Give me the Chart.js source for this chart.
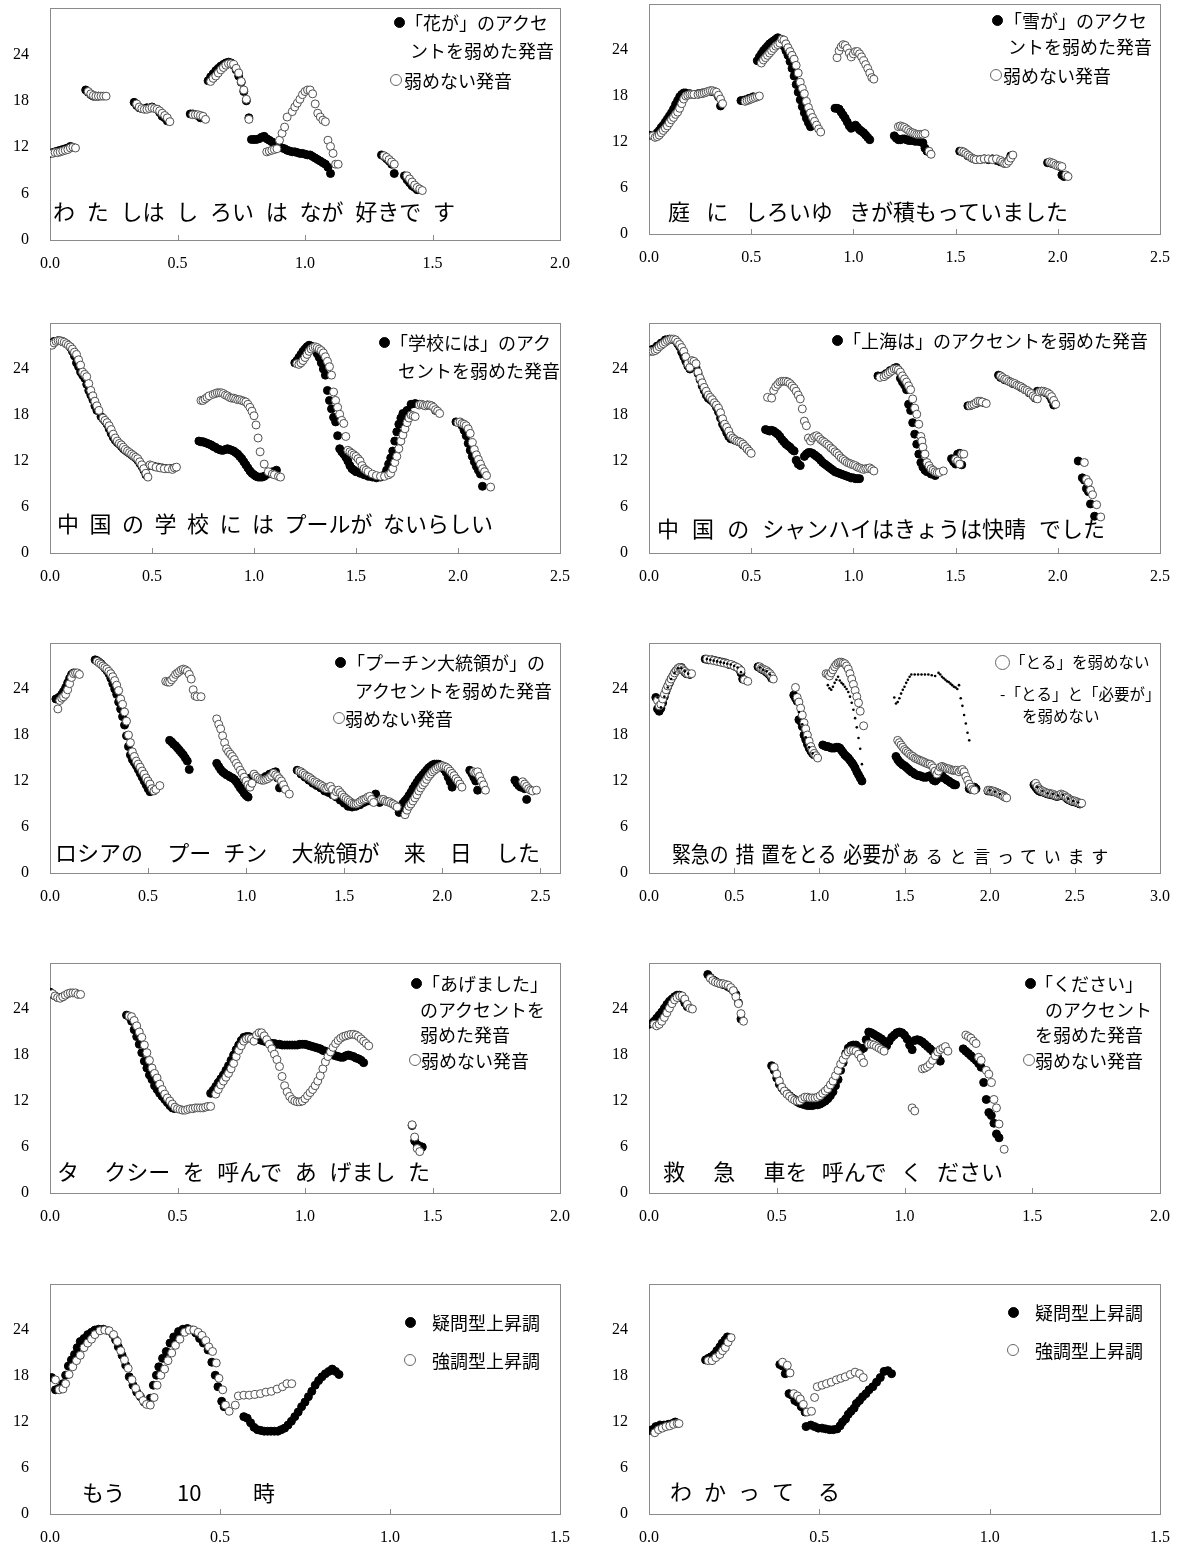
<!DOCTYPE html>
<html>
<head>
<meta charset="utf-8">
<script src="https://cdn.jsdelivr.net/npm/chart.js@4.4.1/dist/chart.umd.min.js"></script>
<style>
body{margin:0;background:#fff;}
#page{position:relative;width:1179px;height:1546px;overflow:hidden;background:#fff;font-family:"Noto Sans CJK JP",sans-serif;color:#000;}
.txt{position:absolute;white-space:pre;line-height:1;transform-origin:0 50%;}
.dot{position:absolute;border-radius:50%;box-sizing:border-box;}
</style>
</head>
<body>
<div id="page"></div>
<script>
// ---- data: [time (s), F0 (semitone)] ----
var p1Weak = [[0.00,11.2],[0.01,11.3],[0.02,11.4],[0.03,11.5],[0.04,11.6],[0.05,11.7],[0.06,11.8],[0.07,11.9],[0.08,12.1],
 [0.14,19.4],[0.15,19.1],[0.16,18.8],[0.17,18.6],[0.18,18.6],[0.19,18.6],
 [0.33,17.8],[0.34,17.4],[0.35,17.1],[0.36,17.0],[0.38,17.1],[0.40,17.2],[0.42,16.9],[0.43,16.5],[0.44,16.0],[0.45,15.8],[0.46,15.4],
 [0.55,16.3],[0.56,16.3],[0.57,16.2],[0.58,16.1],[0.59,15.8],
 [0.62,20.6],[0.63,21.1],[0.64,21.5],[0.65,21.9],[0.66,22.2],[0.67,22.5],[0.68,22.7],[0.69,22.9],[0.70,23.0],[0.71,22.9],[0.72,22.6],[0.73,22.0],[0.74,21.2],[0.75,20.4],[0.76,19.2],[0.77,18.0],[0.78,15.8],
 [0.79,13.0],[0.80,13.0],[0.81,13.0],[0.82,13.1],[0.83,13.3],[0.84,13.4],[0.85,13.1],[0.86,12.9],[0.87,12.7],[0.88,12.5],[0.89,12.3],[0.90,12.1],[0.91,11.9],[0.92,11.8],[0.93,11.6],[0.94,11.5],[0.95,11.4],[0.96,11.4],[0.97,11.3],[0.98,11.2],[0.99,11.2],[1.00,11.1],[1.01,11.0],[1.02,11.0],[1.03,10.8],[1.04,10.6],[1.05,10.4],[1.06,10.2],[1.07,10.0],[1.08,9.8],[1.09,9.4],[1.10,8.6],
 [1.30,11.0],[1.31,10.8],[1.32,10.5],[1.33,10.2],[1.34,9.8],[1.35,8.6],[1.39,8.3],[1.40,7.8],[1.41,7.4],[1.42,7.0],[1.43,6.8],[1.44,6.5]];
var p1Plain = [[0.01,11.2],[0.02,11.3],[0.03,11.3],[0.04,11.4],[0.05,11.5],[0.06,11.6],[0.07,11.7],[0.08,11.9],[0.09,12.0],[0.10,11.9],
 [0.15,19.2],[0.16,18.9],[0.17,18.7],[0.18,18.6],[0.19,18.6],[0.20,18.6],[0.21,18.6],[0.22,18.6],
 [0.34,17.6],[0.35,17.2],[0.36,17.0],[0.37,16.9],[0.38,16.9],[0.39,17.0],[0.40,17.1],[0.41,17.0],[0.42,16.9],[0.43,16.7],[0.44,16.4],[0.45,16.1],[0.46,15.8],[0.47,15.3],
 [0.56,16.2],[0.57,16.2],[0.58,16.2],[0.59,16.1],[0.60,16.0],[0.61,15.6],
 [0.63,20.5],[0.64,20.9],[0.65,21.2],[0.66,21.6],[0.67,22.0],[0.68,22.3],[0.69,22.6],[0.70,22.8],[0.71,22.8],[0.72,22.7],[0.73,22.2],[0.74,21.6],[0.75,20.5],[0.76,19.4],[0.77,18.2],[0.78,15.6],
 [0.85,11.4],[0.86,11.5],[0.87,11.6],[0.88,11.7],[0.89,11.8],[0.90,12.9],[0.91,13.8],[0.92,14.6],[0.93,15.9],[0.95,16.6],[0.96,17.2],[0.97,17.7],[0.98,18.2],[0.99,18.8],[1.00,19.2],[1.01,19.4],[1.02,19.4],[1.03,18.9],[1.04,17.6],[1.05,16.4],[1.06,15.9],[1.07,15.5],[1.08,15.3],[1.09,12.9],[1.10,12.1],[1.11,11.2],[1.12,9.8],[1.13,9.8],
 [1.31,10.9],[1.32,10.7],[1.33,10.4],[1.34,10.1],[1.35,9.8],[1.40,8.3],[1.41,7.9],[1.42,7.5],[1.43,7.1],[1.44,6.8],[1.45,6.6],[1.46,6.4]];

var p2Weak = [[0.00,12.9],[0.02,12.8],[0.03,12.9],[0.04,13.2],[0.05,13.5],[0.06,13.9],[0.07,14.2],[0.08,14.6],[0.09,15.0],[0.10,15.4],[0.11,15.8],[0.12,16.3],[0.13,16.9],[0.14,17.4],[0.15,17.9],[0.16,18.2],[0.17,18.4],[0.18,18.4],[0.20,18.3],[0.22,18.2],[0.24,18.3],[0.26,18.4],[0.28,18.5],[0.30,18.6],[0.32,18.5],[0.34,17.9],[0.35,16.7],
 [0.45,17.4],[0.47,17.5],[0.49,17.7],[0.51,17.9],
 [0.53,22.6],[0.54,23.1],[0.55,23.5],[0.56,23.9],[0.57,24.2],[0.58,24.5],[0.59,24.8],[0.60,25.0],[0.61,25.2],[0.62,25.4],[0.63,25.6],[0.64,25.4],[0.65,25.0],[0.66,24.5],[0.67,23.9],[0.68,23.3],[0.69,22.5],[0.70,21.6],[0.71,20.6],[0.72,19.5],[0.73,18.5],[0.74,17.5],[0.75,16.6],[0.76,15.8],[0.77,15.1],[0.78,14.5],[0.79,14.0],
 [0.91,16.4],[0.92,16.4],[0.93,16.3],[0.94,15.9],[0.95,15.5],[0.96,15.1],[0.97,14.6],[0.98,14.1],[0.99,13.8],[1.00,14.0],[1.01,14.2],[1.02,13.9],[1.03,13.6],[1.04,13.4],[1.05,13.2],[1.06,12.9],[1.07,12.6],[1.08,12.3],
 [1.20,12.8],[1.21,12.5],[1.22,12.3],[1.23,12.3],[1.24,12.4],[1.25,12.4],[1.26,12.3],[1.27,12.2],[1.28,12.2],[1.29,12.2],[1.30,12.1],[1.31,12.1],[1.32,12.1],[1.33,12.0],[1.34,11.9],[1.35,11.2],[1.36,10.8],
 [1.52,10.8],[1.54,10.6],[1.56,10.2],[1.58,9.9],[1.60,9.7],[1.62,9.7],[1.64,9.8],[1.66,9.7],[1.68,9.8],[1.70,9.6],[1.72,9.4],[1.74,9.2],[1.76,9.6],[1.77,10.2],
 [1.95,9.3],[1.97,9.2],[1.99,9.0],[2.01,8.8],[2.02,7.7],[2.03,7.5]];
var p2Plain = [[0.02,12.8],[0.03,12.6],[0.04,12.7],[0.05,12.9],[0.06,13.2],[0.07,13.5],[0.08,13.8],[0.09,14.1],[0.10,14.5],[0.11,14.9],[0.12,15.2],[0.13,15.6],[0.14,15.9],[0.15,16.4],[0.16,17.0],[0.17,17.6],[0.18,18.0],[0.19,18.1],[0.20,18.2],[0.21,18.2],[0.22,18.2],[0.24,18.2],[0.25,18.3],[0.26,18.3],[0.27,18.4],[0.28,18.5],[0.29,18.6],[0.30,18.7],[0.31,18.7],[0.32,18.6],[0.33,18.5],[0.34,18.1],[0.35,17.6],[0.36,17.0],
 [0.47,17.3],[0.48,17.4],[0.49,17.5],[0.50,17.6],[0.51,17.7],[0.52,17.8],[0.53,17.9],[0.54,18.0],
 [0.55,22.3],[0.56,22.7],[0.57,23.0],[0.58,23.3],[0.59,23.6],[0.60,23.9],[0.61,24.2],[0.62,24.5],[0.63,24.7],[0.64,24.9],[0.65,25.4],[0.66,25.3],[0.67,24.8],[0.68,24.3],[0.69,23.8],[0.70,23.3],[0.71,22.8],[0.72,22.0],[0.73,21.0],[0.74,19.8],[0.75,19.0],[0.76,18.3],[0.77,17.3],[0.78,16.5],[0.79,15.8],[0.80,15.2],[0.81,14.7],[0.82,14.2],[0.83,13.7],[0.84,13.3],
 [0.92,23.0],[0.93,23.9],[0.94,24.4],[0.95,24.7],[0.96,24.6],[0.97,24.2],[0.98,23.6],[0.99,23.1],[1.00,23.5],[1.01,23.8],[1.02,23.8],[1.03,23.5],[1.04,23.1],[1.05,22.6],[1.06,22.1],[1.07,21.6],[1.08,21.0],[1.09,20.4],[1.10,20.2],
 [1.22,14.0],[1.23,14.1],[1.24,14.0],[1.25,13.9],[1.26,13.7],[1.27,13.5],[1.28,13.3],[1.29,13.2],[1.30,13.1],[1.31,13.0],[1.32,13.0],[1.33,13.0],[1.34,13.0],[1.35,13.1],[1.37,10.8],[1.38,10.4],
 [1.53,10.8],[1.54,10.7],[1.55,10.5],[1.56,10.3],[1.57,10.1],[1.58,9.9],[1.59,9.8],[1.60,9.7],[1.62,9.7],[1.64,9.8],[1.66,9.8],[1.68,9.7],[1.70,9.8],[1.72,9.6],[1.73,9.4],[1.74,9.2],[1.75,9.2],[1.76,9.5],[1.77,9.9],[1.78,10.3],
 [1.96,9.4],[1.97,9.3],[1.98,9.2],[1.99,9.0],[2.00,8.9],[2.01,8.9],[2.02,8.8],[2.04,7.7],[2.05,7.5]];

var p3Weak = [[0.00,27.3],[0.02,27.6],[0.04,27.7],[0.06,27.6],[0.08,27.3],[0.10,26.8],[0.11,26.3],[0.12,25.7],[0.13,24.8],[0.14,24.3],[0.15,23.6],[0.16,23.2],[0.17,22.8],[0.18,22.0],[0.19,21.2],[0.20,20.6],[0.21,20.0],[0.22,19.2],[0.23,18.6],[0.25,17.8],[0.26,17.5],[0.27,17.2],[0.28,16.8],[0.29,16.2],[0.30,15.6],[0.31,15.1],[0.32,14.7],[0.33,14.4],[0.34,14.2],[0.35,13.9],[0.36,13.6],[0.37,13.4],[0.38,13.2],[0.39,13.0],[0.40,12.8],[0.41,12.6],[0.42,12.4],[0.43,12.1],[0.44,11.7],[0.45,11.3],[0.46,10.8],[0.47,10.2],[0.49,11.4],[0.51,11.3],[0.53,11.2],[0.55,11.1],[0.57,11.0],[0.59,11.0],[0.61,11.1],
 [0.73,14.6],[0.74,14.5],[0.75,14.5],[0.76,14.4],[0.77,14.3],[0.78,14.2],[0.79,14.1],[0.80,13.9],[0.81,13.8],[0.82,13.6],[0.83,13.5],[0.84,13.4],[0.85,13.4],[0.86,13.5],[0.87,13.6],[0.88,13.5],[0.89,13.4],[0.90,13.3],[0.91,13.1],[0.92,12.9],[0.93,12.6],[0.94,12.3],[0.95,11.9],[0.96,11.5],[0.97,11.1],[0.98,10.7],[0.99,10.4],[1.00,10.2],[1.01,10.0],[1.02,9.9],[1.03,9.9],[1.04,9.9],[1.05,10.0],[1.07,10.3],[1.09,10.6],[1.11,10.8],
 [1.20,24.8],[1.21,25.1],[1.22,25.5],[1.23,25.9],[1.24,26.3],[1.25,26.6],[1.26,26.9],[1.27,27.1],[1.28,27.0],[1.29,26.8],[1.30,26.5],[1.31,26.0],[1.32,25.5],[1.33,24.8],[1.34,24.0],[1.35,23.2],[1.36,21.2],[1.37,19.9],[1.38,18.8],[1.39,17.7],[1.40,17.1],[1.41,15.3],[1.42,13.6],[1.43,13.2],[1.44,12.9],[1.45,12.5],[1.46,12.0],[1.47,11.4],[1.48,11.0],[1.49,10.8],[1.50,10.6],[1.52,10.4],[1.54,10.2],[1.56,10.0],[1.58,9.9],[1.60,9.8],[1.62,9.9],[1.64,10.2],[1.65,10.8],[1.66,11.6],[1.67,12.4],[1.68,13.3],[1.69,14.6],[1.70,15.8],[1.71,16.8],[1.72,17.6],[1.73,18.2],[1.75,18.6],[1.77,19.4],[1.79,19.5],[1.81,19.4],[1.83,19.3],[1.85,19.3],[1.87,19.2],[1.89,18.6],
 [1.99,17.1],[2.01,17.0],[2.02,16.6],[2.03,16.0],[2.04,15.3],[2.05,14.3],[2.06,13.4],[2.07,12.6],[2.08,11.9],[2.09,11.3],[2.10,10.8],[2.11,10.3],[2.12,8.7]];
var p3Plain = [[0.00,27.2],[0.01,27.1],[0.02,27.4],[0.03,27.6],[0.04,27.7],[0.05,27.7],[0.06,27.6],[0.07,27.5],[0.08,27.3],[0.09,27.1],[0.10,26.9],[0.11,26.6],[0.12,26.2],[0.13,25.9],[0.14,25.2],[0.15,24.5],[0.16,23.6],[0.17,23.3],[0.18,23.0],[0.19,22.1],[0.20,21.2],[0.21,20.5],[0.22,19.8],[0.23,19.2],[0.24,18.6],[0.26,17.6],[0.27,17.3],[0.28,17.0],[0.29,16.6],[0.30,16.1],[0.31,15.5],[0.32,15.0],[0.33,14.6],[0.34,14.3],[0.35,14.1],[0.36,13.8],[0.37,13.5],[0.38,13.3],[0.39,13.1],[0.40,12.9],[0.41,12.7],[0.42,12.5],[0.43,12.3],[0.44,11.9],[0.45,11.5],[0.46,11.0],[0.47,10.4],[0.48,9.9],[0.49,11.5],[0.50,11.4],[0.52,11.2],[0.54,11.1],[0.56,11.0],[0.58,11.0],[0.60,10.9],[0.61,11.1],[0.62,11.2],
 [0.74,19.9],[0.75,19.9],[0.76,20.1],[0.77,20.3],[0.78,20.5],[0.80,20.7],[0.81,20.8],[0.82,20.9],[0.83,20.9],[0.84,20.9],[0.85,20.8],[0.86,20.6],[0.87,20.5],[0.88,20.3],[0.89,20.2],[0.90,20.2],[0.91,20.1],[0.92,20.0],[0.93,20.0],[0.94,19.9],[0.95,19.8],[0.96,19.7],[0.97,19.4],[0.98,19.0],[0.99,18.5],[1.00,17.9],[1.01,16.7],[1.02,15.0],[1.03,13.2],[1.05,11.6],[1.07,10.6],[1.09,10.3],[1.10,10.2],[1.12,10.0],[1.13,9.9],
 [1.21,24.7],[1.22,24.6],[1.23,24.8],[1.24,25.1],[1.25,25.5],[1.26,25.9],[1.27,26.3],[1.28,26.6],[1.29,26.8],[1.30,26.9],[1.31,26.8],[1.32,26.6],[1.33,26.4],[1.34,26.1],[1.35,25.6],[1.36,25.0],[1.37,24.3],[1.38,23.2],[1.39,21.0],[1.40,19.9],[1.41,19.0],[1.42,18.1],[1.43,17.3],[1.44,16.9],[1.45,15.2],[1.46,13.4],[1.47,13.2],[1.48,13.0],[1.49,12.8],[1.50,12.6],[1.51,12.3],[1.52,12.0],[1.53,11.4],[1.54,11.0],[1.55,10.8],[1.56,10.6],[1.58,10.3],[1.60,10.1],[1.62,10.0],[1.64,10.0],[1.66,10.2],[1.67,10.4],[1.68,11.0],[1.69,11.8],[1.70,12.6],[1.71,13.6],[1.72,14.6],[1.73,15.4],[1.74,16.2],[1.75,17.0],[1.76,17.6],[1.77,18.0],[1.78,17.9],[1.79,17.8],[1.81,19.3],[1.82,19.4],[1.83,19.3],[1.84,19.2],[1.85,19.3],[1.86,19.3],[1.87,19.2],[1.88,19.0],[1.89,18.7],[1.90,18.5],[1.91,18.2],
 [2.00,17.0],[2.01,17.1],[2.02,16.9],[2.03,16.8],[2.04,16.6],[2.05,16.2],[2.06,15.6],[2.07,14.4],[2.08,13.5],[2.09,12.8],[2.10,12.2],[2.11,11.6],[2.12,11.0],[2.13,10.6],[2.14,10.1],[2.16,8.6]];

var p4Weak = [[0.00,26.4],[0.02,26.6],[0.04,27.0],[0.06,27.4],[0.08,27.8],[0.10,27.9],[0.12,27.8],[0.14,27.3],[0.15,26.9],[0.16,26.2],[0.17,25.6],[0.18,25.0],[0.19,24.4],[0.20,24.0],[0.21,24.9],[0.22,24.9],[0.23,24.2],[0.24,23.4],[0.25,22.6],[0.26,21.8],[0.27,21.2],[0.28,20.6],[0.29,20.2],[0.30,20.0],[0.31,19.8],[0.32,19.5],[0.33,19.0],[0.34,18.4],[0.35,17.6],[0.36,16.8],[0.37,16.3],[0.38,15.7],[0.39,15.2],[0.40,14.9],[0.42,14.7],[0.44,14.5],[0.46,14.1],[0.48,13.6],
 [0.57,16.1],[0.58,16.0],[0.59,15.9],[0.60,16.0],[0.61,15.9],[0.62,15.7],[0.63,15.5],[0.64,15.2],[0.65,14.8],[0.66,14.5],[0.67,14.2],[0.68,14.0],[0.69,13.8],[0.70,13.5],[0.71,13.3],[0.72,12.1],[0.73,11.6],[0.74,11.4],[0.76,12.6],[0.77,12.9],[0.78,13.1],[0.79,13.1],[0.80,13.0],[0.81,12.8],[0.82,12.6],[0.83,12.4],[0.84,12.1],[0.85,11.8],[0.86,11.6],[0.87,11.4],[0.88,11.2],[0.89,11.0],[0.90,10.8],[0.91,10.6],[0.92,10.5],[0.93,10.4],[0.94,10.3],[0.95,10.2],[0.96,10.1],[0.97,10.0],[0.98,9.9],[0.99,9.8],[1.00,9.8],[1.01,9.7],[1.02,9.7],[1.03,9.7],
 [1.12,23.1],[1.14,23.1],[1.16,23.4],[1.18,23.8],[1.20,24.1],[1.21,24.2],[1.22,23.8],[1.23,22.8],[1.24,22.3],[1.25,21.9],[1.26,21.3],[1.27,19.4],[1.28,18.6],[1.29,17.0],[1.30,15.5],[1.31,14.2],[1.32,12.9],[1.33,11.8],[1.34,11.2],[1.35,10.8],[1.36,10.6],[1.38,10.3],[1.40,10.1],
 [1.48,12.3],[1.49,11.9],[1.50,11.6],[1.51,12.9],[1.52,13.0],[1.53,11.5],
 [1.56,19.2],[1.58,19.3],[1.60,19.5],[1.62,19.7],[1.64,19.6],
 [1.71,23.2],[1.72,22.9],[1.74,22.6],[1.76,22.4],[1.78,22.1],[1.80,21.9],[1.82,21.6],[1.84,21.3],[1.86,20.9],[1.88,20.5],[1.89,20.2],[1.90,21.1],[1.92,21.1],[1.94,20.9],[1.96,20.5],[1.97,20.0],[1.98,19.3],
 [2.10,12.0],[2.12,9.8],[2.13,9.5],[2.14,8.4],[2.15,8.0],[2.16,6.4],[2.18,4.8]];
var p4Plain = [[0.01,26.3],[0.02,26.3],[0.03,26.4],[0.04,26.6],[0.05,26.9],[0.06,27.1],[0.07,27.3],[0.08,27.5],[0.09,27.7],[0.10,27.8],[0.11,27.9],[0.12,27.9],[0.13,27.8],[0.14,27.5],[0.15,27.2],[0.16,26.8],[0.17,26.3],[0.18,25.6],[0.19,24.7],[0.20,24.2],[0.21,25.1],[0.22,25.0],[0.23,24.7],[0.24,23.6],[0.25,22.8],[0.26,22.2],[0.27,21.6],[0.28,21.1],[0.29,20.6],[0.30,20.3],[0.31,20.0],[0.32,19.6],[0.33,19.3],[0.34,18.9],[0.35,18.3],[0.36,17.5],[0.37,16.8],[0.38,16.4],[0.39,15.9],[0.40,15.3],[0.41,15.0],[0.42,14.8],[0.43,14.6],[0.44,14.5],[0.45,14.4],[0.46,14.2],[0.47,13.9],[0.48,13.6],[0.49,13.3],[0.50,13.0],
 [0.58,20.3],[0.60,20.2],[0.61,21.2],[0.62,21.7],[0.63,22.0],[0.64,22.3],[0.65,22.4],[0.66,22.4],[0.67,22.4],[0.68,22.3],[0.69,22.1],[0.70,21.8],[0.71,21.5],[0.72,21.1],[0.73,20.6],[0.74,20.1],[0.75,18.8],[0.76,17.2],[0.77,16.6],[0.78,15.0],[0.79,14.6],[0.80,15.0],[0.81,15.2],[0.82,15.3],[0.83,15.1],[0.84,14.8],[0.85,14.6],[0.86,14.4],[0.87,14.2],[0.88,14.0],[0.89,13.7],[0.90,13.5],[0.91,13.2],[0.92,13.0],[0.93,12.7],[0.94,12.4],[0.95,12.2],[0.96,12.0],[0.97,11.8],[0.98,11.7],[0.99,11.6],[1.00,11.5],[1.01,11.4],[1.02,11.2],[1.03,11.1],[1.04,11.0],[1.05,10.9],[1.06,11.0],[1.07,11.0],[1.08,11.1],[1.09,10.9],[1.10,10.7],
 [1.13,22.9],[1.15,23.0],[1.16,23.2],[1.17,23.4],[1.18,23.6],[1.19,23.8],[1.20,24.0],[1.21,24.0],[1.22,23.9],[1.23,23.6],[1.24,23.1],[1.25,22.7],[1.26,22.3],[1.27,21.8],[1.28,21.3],[1.29,20.1],[1.30,18.9],[1.31,18.1],[1.32,16.8],[1.33,15.2],[1.335,14.6],[1.34,13.8],[1.35,12.9],[1.36,11.8],[1.37,11.4],[1.38,11.0],[1.39,10.8],[1.40,10.6],[1.41,10.5],[1.42,10.5],[1.44,10.7],
 [1.50,12.2],[1.51,12.0],[1.52,11.6],[1.53,12.9],[1.54,12.9],
 [1.57,19.2],[1.58,19.3],[1.59,19.4],[1.60,19.6],[1.61,19.8],[1.62,19.8],[1.63,19.7],[1.65,19.5],
 [1.72,23.1],[1.73,22.9],[1.74,22.7],[1.75,22.6],[1.76,22.4],[1.77,22.3],[1.78,22.2],[1.79,22.1],[1.80,21.9],[1.81,21.8],[1.82,21.7],[1.83,21.5],[1.84,21.3],[1.85,21.2],[1.86,21.0],[1.87,20.8],[1.88,20.5],[1.89,20.3],[1.90,20.1],[1.91,21.0],[1.92,21.1],[1.93,21.1],[1.94,21.0],[1.95,20.9],[1.96,20.7],[1.97,20.4],[1.98,19.9],[1.99,19.4],
 [2.13,11.8],[2.14,9.6],[2.15,9.2],[2.16,8.2],[2.17,7.6],[2.19,6.3],[2.21,4.7]];

var p5Weak = [[0.03,22.7],[0.04,22.8],[0.05,23.0],[0.06,23.3],[0.07,23.7],[0.08,24.2],[0.09,24.8],[0.10,25.4],[0.11,25.9],[0.12,26.1],
 [0.23,27.8],[0.24,27.7],[0.25,27.5],[0.26,27.3],[0.27,27.0],[0.28,26.7],[0.29,26.4],[0.30,26.0],[0.31,25.4],[0.32,24.7],[0.33,24.0],[0.34,23.3],[0.35,22.3],[0.36,21.4],[0.37,20.4],[0.38,19.3],[0.39,17.9],[0.40,16.5],[0.41,15.4],[0.42,14.8],[0.43,14.4],[0.44,14.0],[0.45,13.5],[0.46,13.0],[0.47,12.5],[0.48,12.0],[0.49,11.5],[0.50,11.0],[0.51,10.6],
 [0.61,17.3],[0.62,17.1],[0.63,16.8],[0.64,16.6],[0.65,16.3],[0.66,16.0],[0.67,15.7],[0.68,15.4],[0.69,15.0],[0.70,14.6],[0.71,13.5],
 [0.85,14.3],[0.86,13.9],[0.87,13.5],[0.88,13.2],[0.89,13.0],[0.90,12.8],[0.91,12.7],[0.92,12.5],[0.93,12.4],[0.94,12.2],[0.95,11.9],[0.96,11.5],[0.97,11.1],[0.98,10.8],[0.99,10.4],[1.00,10.1],[1.01,9.9],[1.02,12.4],[1.04,12.3],[1.06,12.3],[1.08,12.3],[1.10,12.6],[1.12,12.9],[1.14,13.1],[1.15,13.2],[1.16,12.4],[1.17,11.1],[1.18,11.4],[1.19,11.3],
 [1.26,13.4],[1.28,12.9],[1.30,12.5],[1.32,12.1],[1.34,11.7],[1.36,11.4],[1.38,11.1],[1.40,10.7],[1.42,10.5],[1.44,10.2],[1.46,9.9],[1.48,9.5],[1.50,9.1],[1.52,8.7],[1.54,8.6],[1.56,8.7],[1.58,8.9],[1.60,9.2],[1.62,9.4],[1.64,9.8],[1.66,10.3],[1.68,9.2],
 [1.70,9.5],[1.72,9.3],[1.74,9.1],[1.76,8.8],
 [1.78,7.9],[1.79,8.6],[1.80,9.1],[1.81,9.4],[1.82,9.7],[1.83,10.1],[1.84,10.5],[1.85,11.0],[1.86,11.4],[1.87,11.8],[1.88,12.2],[1.89,12.5],[1.90,12.8],[1.91,13.1],[1.92,13.4],[1.93,13.7],[1.94,13.9],[1.95,14.1],[1.96,14.2],[1.97,14.2],[1.98,14.2],[1.99,14.1],[2.00,13.8],[2.01,13.5],[2.02,13.1],[2.03,12.5],[2.04,11.9],[2.05,11.2],
 [2.14,13.4],[2.15,13.0],[2.16,12.5],[2.17,12.0],[2.18,10.8],
 [2.37,12.1],[2.38,11.7],[2.39,11.4],[2.40,11.2],[2.42,11.0],[2.43,9.6]];
var p5Plain = [[0.04,21.4],[0.05,22.5],[0.06,22.8],[0.07,23.0],[0.08,23.3],[0.09,23.9],[0.10,24.7],[0.11,25.5],[0.12,26.0],[0.13,26.1],[0.14,26.1],[0.15,25.9],
 [0.24,27.6],[0.25,27.4],[0.26,27.2],[0.27,27.0],[0.28,26.8],[0.29,26.6],[0.30,26.3],[0.31,26.0],[0.32,25.6],[0.33,25.1],[0.34,24.5],[0.35,23.8],[0.36,22.7],[0.37,22.0],[0.38,21.0],[0.39,19.8],[0.40,18.0],[0.41,17.0],[0.42,15.8],[0.43,15.2],[0.44,14.6],[0.45,14.2],[0.46,13.8],[0.47,13.3],[0.48,12.9],[0.49,12.4],[0.50,12.0],[0.51,11.6],[0.52,11.0],[0.53,10.7],[0.54,10.9],[0.56,11.4],
 [0.59,25.0],[0.60,24.9],[0.61,24.9],[0.62,25.2],[0.63,25.5],[0.64,25.9],[0.65,26.1],[0.66,26.3],[0.67,26.5],[0.68,26.6],[0.69,26.5],[0.70,26.3],[0.71,25.9],[0.72,25.3],[0.73,23.9],[0.74,23.1],[0.75,23.0],[0.77,23.0],
 [0.85,20.1],[0.86,19.4],[0.87,18.8],[0.88,17.9],[0.89,17.0],[0.90,16.2],[0.91,15.8],[0.92,15.5],[0.93,15.2],[0.94,14.8],[0.95,14.3],[0.96,13.9],[0.97,13.4],[0.98,13.0],[0.99,12.5],[1.00,12.0],[1.01,11.5],[1.02,11.2],[1.03,11.7],[1.04,12.9],[1.05,12.6],[1.06,12.4],[1.07,12.2],[1.08,12.1],[1.09,12.1],[1.10,12.2],[1.11,12.3],[1.12,12.5],[1.13,12.7],[1.14,13.0],[1.15,12.8],[1.16,12.6],[1.17,12.3],[1.18,12.0],[1.19,11.5],[1.20,10.9],[1.22,10.3],
 [1.27,13.3],[1.28,13.2],[1.29,13.0],[1.30,12.8],[1.31,12.6],[1.32,12.5],[1.33,12.3],[1.34,12.1],[1.35,11.9],[1.36,11.8],[1.37,11.6],[1.38,11.5],[1.39,11.3],[1.40,11.1],[1.41,11.0],[1.42,11.2],[1.43,11.3],[1.44,10.9],[1.45,10.1],[1.46,10.6],[1.47,10.8],[1.48,10.5],[1.49,10.2],[1.50,9.9],[1.51,9.7],[1.52,9.5],[1.53,9.3],[1.54,9.1],[1.55,9.0],[1.56,9.0],[1.57,9.1],[1.58,9.3],[1.59,9.5],[1.60,9.6],[1.61,9.7],[1.62,9.9],[1.63,10.0],[1.64,9.6],[1.65,9.2],
 [1.69,9.6],[1.70,9.6],[1.71,9.4],[1.72,9.3],[1.73,9.3],[1.74,9.1],[1.75,9.0],[1.76,8.8],[1.77,8.6],
 [1.81,7.6],[1.82,8.2],[1.83,8.7],[1.84,9.0],[1.85,9.4],[1.86,9.8],[1.87,10.2],[1.88,10.7],[1.89,11.1],[1.90,11.5],[1.91,11.8],[1.92,12.2],[1.93,12.6],[1.94,12.9],[1.95,13.2],[1.96,13.4],[1.97,13.6],[1.98,13.8],[1.99,13.9],[2.00,14.0],[2.01,13.9],[2.02,13.8],[2.03,13.6],[2.04,13.3],[2.05,13.0],[2.06,12.7],[2.07,12.3],[2.08,12.0],[2.09,11.6],[2.10,11.2],
 [2.16,13.2],[2.17,13.1],[2.18,13.2],[2.19,12.6],[2.20,12.0],[2.21,11.5],[2.22,10.8],
 [2.41,11.9],[2.42,11.6],[2.43,11.3],[2.44,11.0],[2.45,10.8],[2.46,10.7],[2.48,10.8]];

var p6Weak = [[0.04,22.9],[0.05,21.4],[0.06,21.1],[0.07,21.5],[0.08,22.2],[0.09,23.0],[0.10,23.7],[0.11,24.3],[0.12,24.8],[0.13,25.3],[0.14,25.7],[0.15,26.1],[0.16,26.4],[0.17,26.6],[0.18,26.8],[0.19,26.8],[0.20,26.5],[0.21,26.2],[0.22,26.0],[0.24,25.9],
 [0.33,27.9],[0.35,27.8],[0.37,27.8],[0.39,27.7],[0.41,27.6],[0.43,27.5],[0.45,27.4],[0.47,27.2],[0.49,27.1],[0.51,26.9],[0.53,26.6],[0.54,26.1],[0.55,25.3],
 [0.64,26.9],[0.65,26.8],[0.66,26.6],[0.67,26.5],[0.68,26.4],[0.69,26.2],[0.70,26.0],[0.71,25.8],[0.72,25.4],
 [0.85,23.2],[0.86,22.8],[0.87,22.4],[0.88,20.0],[0.89,19.8],[0.90,19.1],[0.91,18.0],[0.92,17.4],[0.93,16.8],[0.94,16.3],[0.95,15.9],[0.96,15.6],[0.97,15.4],
 [1.02,16.7],[1.03,16.6],[1.04,16.5],[1.05,16.5],[1.06,16.4],[1.07,16.3],[1.08,16.3],[1.09,16.3],[1.10,16.4],[1.11,16.4],[1.12,16.3],[1.13,16.0],[1.14,15.7],[1.15,15.4],[1.16,15.2],[1.17,15.0],[1.18,14.7],[1.19,14.4],[1.20,14.1],[1.21,13.7],[1.22,13.2],[1.23,12.8],[1.24,12.4],[1.25,12.0],
 [1.45,15.2],[1.46,14.8],[1.47,14.5],[1.48,14.3],[1.49,14.1],[1.50,14.0],[1.51,13.8],[1.52,13.6],[1.53,13.4],[1.54,13.2],[1.55,13.1],[1.56,12.9],[1.57,12.8],[1.58,12.7],[1.59,12.7],[1.60,12.6],[1.61,12.5],[1.62,12.5],[1.63,12.5],[1.64,12.6],[1.65,12.7],[1.66,12.4],[1.67,12.1],[1.68,12.0],[1.69,12.2],[1.70,12.6],[1.71,12.9],[1.72,12.7],[1.73,12.4],[1.74,12.3],[1.75,12.1],[1.76,12.0],[1.77,11.8],[1.78,11.7],[1.79,11.5],[1.80,11.5],
 [1.88,11.0],[1.89,10.9],[1.90,11.1],[1.91,11.2],[1.92,11.0],
 [1.99,10.7],[2.00,10.7],[2.01,10.7],[2.02,10.6],[2.03,10.6],[2.04,10.5],[2.05,10.4],[2.06,10.3],[2.07,10.2],[2.08,10.1],[2.09,9.9],
 [2.26,11.5],[2.27,11.2],[2.28,10.9],[2.29,10.7],[2.30,10.6],[2.31,10.6],[2.32,10.5],[2.33,10.4],[2.34,10.3],[2.35,10.3],[2.36,10.2],[2.37,10.2],[2.38,10.1],[2.39,10.0],[2.40,10.0],[2.41,10.1],[2.42,10.2],[2.43,10.1],[2.44,10.0],[2.45,9.8],[2.46,9.6],[2.47,9.5],[2.48,9.4],[2.49,9.3],[2.50,9.3],[2.51,9.2],[2.52,9.1],[2.53,9.0]];
var p6Toru = [[0.05,22.5],[0.06,21.8],[0.07,22.0],[0.08,22.7],[0.09,23.3],[0.10,23.9],[0.11,24.4],[0.12,24.9],[0.13,25.3],[0.14,25.7],[0.15,26.1],[0.16,26.4],[0.17,26.7],[0.18,26.8],[0.19,26.7],[0.20,26.5],[0.21,26.3],[0.22,26.1],[0.23,26.0],[0.25,26.0],
 [0.34,27.9],[0.36,27.8],[0.38,27.7],[0.40,27.6],[0.42,27.5],[0.44,27.4],[0.46,27.3],[0.48,27.2],[0.50,27.0],[0.52,26.8],[0.54,26.4],[0.56,25.2],[0.58,25.0],
 [0.65,26.9],[0.66,26.7],[0.67,26.6],[0.68,26.5],[0.69,26.4],[0.70,26.2],[0.71,26.0],[0.72,25.7],[0.73,25.3],
 [0.86,24.2],[0.87,22.9],[0.88,22.3],[0.89,21.5],[0.90,20.6],[0.91,19.6],[0.92,18.8],[0.93,18.0],[0.94,17.2],[0.95,16.5],[0.96,16.0],[0.97,15.6],[0.98,15.3],[0.99,15.0],
 [1.04,26.0],[1.05,25.9],[1.06,25.7],[1.07,26.1],[1.08,26.5],[1.09,26.9],[1.10,27.2],[1.11,27.4],[1.12,27.5],[1.13,27.5],[1.14,27.4],[1.15,27.3],[1.16,27.0],[1.17,26.6],[1.18,26.0],[1.19,25.3],[1.20,24.6],[1.21,23.8],[1.22,23.0],[1.23,22.2],[1.24,21.1],[1.26,19.2],
 [1.46,17.3],[1.47,17.0],[1.48,16.7],[1.49,16.4],[1.50,16.1],[1.51,15.9],[1.52,15.7],[1.53,15.5],[1.54,15.3],[1.55,15.2],[1.56,15.0],[1.57,14.9],[1.58,14.8],[1.59,14.7],[1.60,14.6],[1.61,14.5],[1.62,14.4],[1.63,14.3],[1.64,14.2],[1.65,14.2],[1.66,14.0],[1.67,13.7],[1.68,13.3],[1.69,12.9],[1.70,13.3],[1.71,13.8],[1.72,13.9],[1.73,13.8],[1.74,13.7],[1.75,13.6],[1.76,13.6],[1.77,13.5],[1.78,13.4],[1.79,13.4],[1.80,13.4],[1.81,13.4],[1.82,13.2],[1.83,13.4],[1.84,13.5],[1.85,13.2],[1.86,12.6],[1.87,12.1],[1.88,11.6],[1.89,11.2],[1.90,10.9],[1.91,10.8],
 [1.99,10.8],[2.00,10.8],[2.01,10.7],[2.02,10.7],[2.03,10.6],[2.04,10.5],[2.05,10.4],[2.06,10.3],[2.07,10.2],[2.08,10.0],[2.09,9.9],[2.10,9.8],
 [2.27,11.7],[2.28,11.3],[2.29,11.0],[2.30,10.8],[2.31,10.7],[2.32,10.6],[2.33,10.5],[2.34,10.4],[2.35,10.4],[2.36,10.3],[2.37,10.3],[2.38,10.2],[2.39,10.1],[2.40,10.1],[2.41,10.2],[2.42,10.3],[2.43,10.2],[2.44,10.1],[2.45,9.9],[2.46,9.8],[2.47,9.6],[2.48,9.5],[2.49,9.4],[2.50,9.4],[2.51,9.3],[2.52,9.2],[2.53,9.1],[2.54,9.1]];
var p6Both = [[0.05,22.9],[0.07,21.6],[0.09,23.0],[0.11,24.2],[0.13,25.3],[0.15,26.1],[0.17,26.7],[0.19,26.7],[0.21,26.3],[0.23,26.0],
 [0.34,27.9],[0.36,27.8],[0.38,27.7],[0.40,27.6],[0.42,27.5],[0.44,27.4],[0.46,27.3],[0.48,27.2],[0.50,27.0],[0.52,26.8],[0.54,26.2],
 [0.65,26.8],[0.67,26.5],[0.69,26.3],[0.71,25.9],
 [0.86,23.5],[0.88,21.0],[0.90,19.4],[0.92,17.7],[0.94,16.4],[0.96,15.6],
 [1.05,24.5],[1.06,24.1],[1.07,23.9],[1.08,24.3],[1.09,24.8],[1.10,25.2],[1.11,25.6],[1.12,25.1],[1.13,24.8],[1.14,24.6],[1.15,24.3],[1.16,24.0],[1.17,23.6],[1.18,23.0],[1.19,22.2],[1.20,21.3],[1.21,20.2],[1.22,19.0],[1.23,17.6],[1.24,16.2],[1.25,14.2],
 [1.44,22.9],[1.45,22.1],[1.46,22.3],[1.47,22.8],[1.48,23.4],[1.49,23.9],[1.50,24.3],[1.51,24.8],[1.52,25.2],[1.53,25.6],[1.54,25.9],[1.56,25.9],[1.58,25.9],[1.60,25.9],[1.62,25.9],[1.64,25.9],[1.66,25.8],[1.68,25.7],[1.70,26.1],[1.71,25.9],[1.72,25.6],[1.73,25.4],[1.74,25.2],[1.75,25.0],[1.76,24.9],[1.77,24.7],[1.78,24.5],[1.79,24.3],[1.80,24.2],[1.81,24.0],[1.82,24.5],[1.83,22.8],[1.84,21.8],[1.85,20.6],[1.86,19.5],[1.87,18.3],[1.88,17.3],
 [2.00,10.8],[2.03,10.6],[2.06,10.3],
 [2.28,11.2],[2.31,10.7],[2.34,10.4],[2.37,10.3],[2.40,10.1],[2.43,10.2],[2.46,9.7],[2.49,9.4],[2.52,9.2]];

var p7Weak = [[0.00,26.2],[0.01,25.9],[0.02,25.7],[0.03,25.5],[0.04,25.5],[0.05,25.6],
 [0.30,23.2],[0.31,23.0],[0.32,22.4],[0.33,21.3],[0.34,20.4],[0.35,19.4],[0.36,18.3],[0.37,17.2],[0.38,16.3],[0.39,15.4],[0.40,14.8],[0.41,14.0],[0.42,13.5],[0.43,13.0],[0.44,12.6],[0.45,12.2],[0.46,11.8],[0.47,11.4],[0.48,11.1],[0.49,11.0],
 [0.63,13.0],[0.64,13.4],[0.65,13.9],[0.66,14.4],[0.67,14.9],[0.68,15.4],[0.69,16.0],[0.70,16.6],[0.71,17.3],[0.72,18.0],[0.73,18.7],[0.74,19.3],[0.75,19.9],[0.76,20.3],[0.77,20.4],[0.78,20.4],[0.79,20.3],[0.80,20.2],[0.81,20.1],[0.82,20.0],[0.83,19.9],[0.84,19.8],[0.85,19.7],[0.86,19.6],[0.87,19.5],[0.88,19.5],[0.89,19.4],[0.90,19.4],[0.91,19.3],[0.92,19.3],[0.93,19.3],[0.94,19.3],[0.95,19.3],[0.96,19.3],[0.97,19.3],[0.98,19.4],[0.99,19.4],[1.00,19.4],[1.01,19.3],[1.02,19.2],[1.03,19.1],[1.04,19.0],[1.05,18.9],[1.06,18.8],[1.07,18.6],[1.08,18.5],[1.09,18.3],[1.10,18.1],[1.11,18.0],[1.12,17.9],[1.13,17.8],[1.14,17.7],[1.15,17.7],[1.16,17.9],[1.17,18.0],[1.18,17.9],[1.19,17.8],[1.20,17.6],[1.21,17.5],[1.22,17.3],[1.23,17.0],
 [1.42,8.8],[1.43,6.8],[1.44,6.3],[1.45,6.1],[1.46,6.0]];
var p7Plain = [[0.01,26.0],[0.02,25.7],[0.03,25.5],[0.04,25.4],[0.05,25.6],[0.06,25.8],[0.07,26.0],[0.08,26.1],[0.09,26.1],[0.10,26.1],[0.11,25.9],[0.12,25.9],
 [0.31,23.1],[0.32,23.0],[0.33,22.5],[0.34,21.8],[0.35,21.0],[0.36,20.3],[0.37,19.3],[0.38,18.3],[0.39,17.3],[0.40,16.3],[0.41,15.6],[0.42,15.0],[0.43,14.2],[0.44,13.5],[0.45,12.9],[0.46,12.4],[0.47,12.0],[0.48,11.6],[0.49,11.2],[0.50,11.0],[0.51,10.9],[0.52,10.8],[0.53,10.8],[0.54,10.9],[0.55,11.0],[0.56,11.0],[0.57,11.1],[0.58,11.1],[0.59,11.1],[0.60,11.1],[0.61,11.2],[0.62,11.3],[0.63,11.3],
 [0.65,12.9],[0.66,13.5],[0.67,14.1],[0.68,14.6],[0.69,15.1],[0.70,15.6],[0.71,16.2],[0.72,16.9],[0.73,17.8],[0.74,18.6],[0.75,19.2],[0.76,19.8],[0.77,20.1],[0.78,20.2],[0.79,20.1],[0.80,19.8],[0.81,20.6],[0.82,20.9],[0.83,20.9],[0.84,20.5],[0.85,20.0],[0.86,19.4],[0.87,18.8],[0.88,18.1],[0.89,17.4],[0.90,16.5],[0.91,15.2],[0.92,14.0],[0.93,13.2],[0.94,12.6],[0.95,12.2],[0.96,12.0],[0.97,11.9],[0.98,11.9],[0.99,12.0],[1.00,12.3],[1.01,12.7],[1.02,13.1],[1.03,13.5],[1.04,14.0],[1.05,14.6],[1.06,15.3],[1.07,16.2],[1.08,17.1],[1.09,17.8],[1.10,18.4],[1.11,19.0],[1.12,19.5],[1.13,19.9],[1.14,20.2],[1.15,20.4],[1.16,20.5],[1.17,20.6],[1.18,20.7],[1.19,20.7],[1.20,20.6],[1.21,20.4],[1.22,20.1],[1.23,19.8],[1.24,19.5],[1.25,19.2],
 [1.42,8.9],[1.43,7.3],[1.44,5.8],[1.45,5.4]];

var p8Weak = [[0.00,22.0],[0.01,22.1],[0.02,22.4],[0.03,22.8],[0.04,23.2],[0.05,23.6],[0.06,24.1],[0.07,24.6],[0.08,25.0],[0.09,25.3],[0.10,25.6],[0.11,25.8],[0.12,25.8],[0.13,25.4],[0.14,24.8],[0.15,24.3],
 [0.23,28.5],[0.24,28.1],[0.25,27.8],[0.26,27.6],[0.27,27.4],[0.28,27.3],[0.29,27.2],[0.30,27.1],[0.31,26.9],[0.32,26.7],[0.33,26.4],[0.34,25.9],[0.35,24.8],[0.36,22.7],
 [0.48,16.6],[0.49,16.0],[0.50,15.0],[0.51,14.2],[0.52,13.7],[0.53,13.3],[0.54,13.0],[0.55,12.7],[0.56,12.4],[0.57,12.2],[0.58,11.9],[0.59,11.7],[0.60,11.6],[0.61,11.5],[0.62,11.4],[0.63,11.4],[0.64,11.4],[0.65,11.5],[0.66,11.5],[0.67,11.6],[0.68,11.8],[0.69,12.0],[0.70,12.3],[0.71,12.7],[0.72,13.2],[0.73,14.0],[0.74,14.8],[0.75,16.0],[0.76,17.0],[0.77,18.2],[0.78,18.9],[0.79,19.2],[0.80,19.3],[0.81,19.3],[0.82,19.0],[0.83,18.7],[0.84,18.9],[0.85,20.0],[0.86,21.0],[0.87,20.9],[0.88,20.7],[0.89,20.5],[0.90,20.3],[0.91,20.1],[0.92,19.8],[0.93,19.2],[0.94,19.8],[0.95,20.3],[0.96,20.6],[0.97,20.9],[0.98,21.0],[0.99,20.9],[1.00,20.6],[1.01,20.1],[1.02,19.3],[1.03,18.7],[1.04,19.9],[1.05,20.0],[1.06,19.9],[1.07,19.7],[1.08,19.4],[1.09,19.1],[1.10,18.8],[1.11,18.5],[1.12,18.1],[1.13,17.7],[1.14,17.2],
 [1.23,18.8],[1.24,18.5],[1.25,18.2],[1.26,17.9],[1.27,17.6],[1.28,17.3],[1.29,16.9],[1.30,16.4],[1.31,14.4],[1.32,12.2],[1.33,10.5],[1.34,10.1],[1.35,9.1],[1.36,7.7],[1.37,7.2]];
var p8Plain = [[0.02,22.0],[0.03,21.8],[0.04,22.0],[0.05,22.4],[0.06,22.9],[0.07,23.5],[0.08,24.1],[0.09,24.7],[0.10,25.2],[0.11,25.5],[0.12,25.7],[0.13,25.7],[0.14,25.3],[0.15,24.6],[0.16,24.1],[0.17,24.0],
 [0.24,28.0],[0.25,27.7],[0.26,27.5],[0.27,27.4],[0.28,27.3],[0.29,27.3],[0.30,27.2],[0.31,27.1],[0.32,26.8],[0.33,26.4],[0.34,25.6],[0.35,24.7],[0.36,23.4],[0.37,22.4],
 [0.49,16.4],[0.50,15.5],[0.51,14.6],[0.52,13.8],[0.53,13.3],[0.54,12.9],[0.55,12.6],[0.56,12.3],[0.57,12.1],[0.58,12.0],[0.59,12.0],[0.60,12.3],[0.61,12.5],[0.62,12.5],[0.63,12.4],[0.64,12.4],[0.65,12.4],[0.66,12.5],[0.67,12.7],[0.68,13.0],[0.69,13.3],[0.70,13.6],[0.71,14.1],[0.72,14.6],[0.73,15.3],[0.74,16.0],[0.75,16.8],[0.76,17.4],[0.77,18.0],[0.78,18.4],[0.79,18.6],[0.80,18.6],[0.81,18.5],[0.82,18.1],[0.83,17.6],[0.84,17.0],
 [0.86,19.4],[0.87,19.4],[0.88,19.3],[0.89,19.1],[0.90,18.9],[0.91,18.7],[0.92,18.5],
 [1.03,11.1],[1.04,10.7],[1.07,16.2],[1.08,16.3],[1.09,16.5],[1.10,16.8],[1.11,17.3],[1.12,17.9],[1.13,18.4],[1.14,18.7],[1.15,18.9],[1.16,19.1],[1.17,18.5],
 [1.24,20.6],[1.25,20.4],[1.26,20.2],[1.27,19.8],[1.28,19.5],[1.29,17.7],[1.30,17.3],[1.32,16.0],[1.33,15.5],[1.34,14.4],[1.35,12.2],[1.36,11.1],[1.37,9.0],[1.39,5.7]];

var p9Question = [[0.005,17.8],[0.016,16.2],[0.027,16.4],[0.038,17.0],[0.046,18.1],[0.054,19.3],[0.063,20.1],[0.072,20.8],[0.080,21.7],[0.089,22.5],[0.100,22.9],[0.111,23.4],[0.122,23.7],[0.132,24.0],[0.143,24.1],[0.157,24.1],[0.172,23.9],[0.185,23.4],[0.193,22.7],[0.201,21.8],[0.212,20.7],[0.223,19.4],[0.233,17.9],[0.244,16.8],[0.255,15.9],[0.266,15.3],[0.277,14.6],[0.288,14.4],[0.295,15.1],[0.304,16.8],[0.313,18.1],[0.320,19.2],[0.331,20.3],[0.342,21.2],[0.353,22.3],[0.364,23.1],[0.378,23.8],[0.391,24.1],[0.404,24.2],[0.418,24.0],[0.429,23.6],[0.440,22.9],[0.451,22.3],[0.465,21.4],[0.476,19.8],[0.486,18.1],[0.494,16.6],[0.505,14.7],[0.512,14.0],
 [0.570,12.7],[0.580,12.5],[0.590,11.9],[0.600,11.3],[0.610,11.0],[0.620,10.9],[0.630,10.8],[0.640,10.8],[0.650,10.8],[0.660,10.8],[0.670,10.8],[0.680,11.0],[0.690,11.2],[0.700,11.6],[0.710,12.1],[0.720,12.7],[0.730,13.3],[0.740,14.0],[0.750,14.6],[0.760,15.3],[0.770,16.0],[0.780,16.8],[0.790,17.4],[0.800,17.9],[0.810,18.3],[0.820,18.6],[0.830,18.9],[0.840,18.6],[0.850,18.2]];
var p9Emphasis = [[0.016,17.5],[0.027,16.2],[0.038,16.3],[0.046,17.0],[0.056,18.2],[0.067,19.2],[0.078,20.0],[0.089,20.7],[0.100,21.7],[0.111,22.3],[0.122,22.8],[0.132,23.4],[0.147,23.9],[0.161,24.0],[0.174,23.9],[0.187,23.4],[0.198,22.5],[0.208,21.3],[0.219,20.1],[0.230,19.0],[0.241,17.5],[0.252,16.4],[0.263,15.5],[0.274,14.8],[0.284,14.3],[0.295,14.2],[0.306,15.2],[0.315,16.8],[0.326,18.1],[0.337,18.9],[0.347,20.0],[0.358,21.0],[0.369,22.0],[0.382,22.8],[0.396,23.7],[0.410,24.0],[0.423,24.0],[0.436,23.7],[0.447,23.3],[0.458,22.6],[0.467,21.8],[0.478,21.2],[0.489,19.7],[0.497,17.7],[0.508,16.2],[0.516,14.2],[0.527,13.4],[0.545,14.2],
 [0.554,15.4],[0.570,15.5],[0.586,15.5],[0.603,15.6],[0.619,15.7],[0.635,15.9],[0.651,16.0],[0.668,16.3],[0.684,16.6],[0.697,17.0],[0.711,17.0]];

var p10Question = [[0.000,10.9],[0.009,11.0],[0.020,11.4],[0.033,11.6],[0.044,11.6],[0.057,11.7],[0.068,11.8],[0.077,12.0],
 [0.166,20.1],[0.174,20.3],[0.182,20.5],[0.191,20.8],[0.199,21.3],[0.208,21.8],[0.215,22.3],[0.223,22.7],[0.230,23.1],
 [0.384,19.5],[0.392,19.3],[0.400,18.3],[0.411,15.7],[0.419,15.5],[0.428,14.8],[0.436,14.6],[0.447,14.0],[0.458,13.3],
 [0.461,11.4],[0.475,11.6],[0.486,11.4],[0.497,11.2],[0.508,11.2],[0.519,11.1],[0.530,11.0],[0.541,11.0],[0.552,11.1],[0.561,11.5],[0.568,12.0],[0.577,12.4],[0.585,13.0],[0.593,13.4],[0.602,13.8],[0.609,14.4],[0.618,14.8],[0.627,15.3],[0.637,15.7],[0.646,16.2],[0.657,16.6],[0.668,17.2],[0.679,17.8],[0.690,18.6],[0.701,18.7],[0.712,18.3]];
var p10Emphasis = [[0.017,10.6],[0.028,11.0],[0.039,11.2],[0.050,11.4],[0.061,11.5],[0.072,11.7],[0.083,11.8],[0.088,11.8],
 [0.174,20.0],[0.185,20.0],[0.196,20.4],[0.208,20.8],[0.216,21.3],[0.224,21.7],[0.232,22.4],[0.241,23.0],
 [0.392,19.8],[0.406,19.4],[0.414,18.4],[0.425,15.7],[0.436,15.4],[0.444,15.0],[0.453,14.3],[0.464,13.3],[0.477,13.4],
 [0.486,15.2],[0.494,16.6],[0.508,16.8],[0.521,17.0],[0.535,17.2],[0.550,17.5],[0.563,17.7],[0.576,17.9],[0.591,18.2],[0.605,18.5],[0.618,18.3],[0.629,17.8]];

// x-axis ranges (seconds)
var xMaxes = [2.0, 2.5, 2.5, 2.5, 2.6, 3.0, 2.0, 2.0, 1.5, 1.5];

// sentences under each contour
var sentences = [
  'わ た しは し ろい は なが 好きで す',
  '庭 に しろいゆ きが積もっていました',
  '中 国 の 学 校 に は プールが ないらしい',
  '中 国 の シャンハイはきょうは快晴 でした',
  'ロシアの  プー チン  大統領が  来  日  した',
  '緊急の 措 置をとる 必要が',
  'タ  クシー を 呼んで あ げまし た',
  '救  急  車を 呼んで く ださい',
  'もう      10      時',
  'わ か っ て  る'
];

// legend lines: [text, marker]
var legends = [
  [['「花が」のアクセ','fill'],['ントを弱めた発音'],['弱めない発音','open']],
  [['「雪が」のアクセ','fill'],['ントを弱めた発音'],['弱めない発音','open']],
  [['「学校には」のアク','fill'],['セントを弱めた発音']],
  [['「上海は」のアクセントを弱めた発音','fill']],
  [['「プーチン大統領が」の','fill'],['アクセントを弱めた発音'],['弱めない発音','open']],
  [['「とる」を弱めない','open'],['-「とる」と「必要が」'],['を弱めない']],
  [['「あげました」','fill'],['のアクセントを'],['弱めた発音'],['弱めない発音','open']],
  [['「ください」','fill'],['のアクセント'],['を弱めた発音'],['弱めない発音','open']],
  [['疑問型上昇調','fill'],['強調型上昇調','open']],
  [['疑問型上昇調','fill'],['強調型上昇調','open']]
];

// ---- layout (page pixels) ----
var boxes = [[50,8,560,240],[649,4,1160,234],[50,323,560,553],[649,323,1160,553],[50,643,560,873],
             [649,643,1160,873],[50,963,560,1193],[649,963,1160,1193],[50,1284,560,1514],[649,1284,1160,1514]];
var sentencePos = [[53,210,402],[668,210,400],[57,522,436],[657,527,448],[55,851,485],
                   [672,852,228],[57,1170,373],[663,1170,340],[82,1491,193],[670,1490,170]];
// legend line positions: [textX, centerY, markerX]
var legendPos = [
  [[405,22,399],[410,50],[404,80,396]],
  [[1004,20,997],[1008,46],[1003,75,996]],
  [[390,342,384],[398,370]],
  [[843,340,837]],
  [[347,662,340],[355,690],[345,718,339]],
  [[1010,662,1002],[1000,694],[1022,716]],
  [[422,983,416],[420,1009],[420,1034],[421,1060,415]],
  [[1035,983,1030],[1045,1009],[1035,1034],[1035,1060,1029]],
  [[432,1322,410],[432,1360,410]],
  [[1035,1312,1013],[1035,1350,1013]]
];

var page = document.getElementById('page');

function pts(a){ return a.map(function(p){ return {x:p[0], y:p[1]}; }); }
function filled(a){ return {data:pts(a), pointRadius:4, pointBackgroundColor:'#000', pointBorderColor:'#000', pointBorderWidth:1, backgroundColor:'#000', borderColor:'#000', showLine:false}; }
function hollow(a){ return {data:pts(a), pointRadius:4, pointBackgroundColor:'#fff', pointBorderColor:'#505050', pointBorderWidth:1, backgroundColor:'#fff', borderColor:'#505050', showLine:false}; }
function dots(a){ return {data:pts(a), pointRadius:1.3, pointBackgroundColor:'#000', pointBorderColor:'#000', pointBorderWidth:0, showLine:false}; }

var frame = {
  id:'frame',
  beforeDatasetsDraw:function(c){
    var a=c.chartArea, ctx=c.ctx, xs=c.scales.x;
    ctx.save();
    ctx.strokeStyle='#8a8a8a'; ctx.lineWidth=1;
    ctx.strokeRect(Math.round(a.left)+0.5, Math.round(a.top)+0.5, Math.round(a.right-a.left), Math.round(a.bottom-a.top));
    xs.ticks.forEach(function(t){
      if(t.value<=0 || t.value>=xs.max) return;
      var px=Math.round(xs.getPixelForValue(t.value))+0.5;
      ctx.beginPath(); ctx.moveTo(px,Math.round(a.bottom)); ctx.lineTo(px,Math.round(a.bottom)-5); ctx.stroke();
    });
    ctx.restore();
  }
};

var tickFont = {family:'"Liberation Serif", "Times New Roman", serif', size:16};

function makeChart(i, sets){
  var b=boxes[i], padL=50, padT=6, padR=26, padB=34;
  var div=document.createElement('div');
  div.style.cssText='position:absolute;left:'+(b[0]-padL)+'px;top:'+(b[1]-padT)+'px;width:'+(b[2]-b[0]+padL+padR)+'px;height:'+(b[3]-b[1]+padT+padB)+'px;';
  var cv=document.createElement('canvas');
  div.appendChild(cv); page.appendChild(div);
  new Chart(cv, {
    type:'scatter',
    data:{datasets:sets},
    options:{
      responsive:true, maintainAspectRatio:false, animation:false,
      layout:{padding:{top:padT, right:padR, left:0, bottom:0}},
      plugins:{legend:{display:false}, tooltip:{enabled:false}},
      scales:{
        x:{type:'linear', min:0, max:xMaxes[i],
           grid:{display:false, drawTicks:false}, border:{display:false},
           ticks:{stepSize:0.5, includeBounds:false, autoSkip:false, maxRotation:0, padding:14, color:'#000', font:tickFont,
                  callback:function(v){ return Number(v).toFixed(1); }},
           afterFit:function(s){ s.height=padB; s.paddingLeft=0; s.paddingRight=0; }},
        y:{min:0, max:30,
           grid:{display:false, drawTicks:false}, border:{display:false},
           ticks:{stepSize:6, padding:21, color:'#000', font:tickFont},
           afterBuildTicks:function(s){ s.ticks=s.ticks.filter(function(t){ return t.value<30; }); },
           afterFit:function(s){ s.width=padL; s.paddingTop=0; s.paddingBottom=0; }}
      }
    },
    plugins:[frame]
  });
}

makeChart(0, [hollow(p1Plain), filled(p1Weak)]);
makeChart(1, [hollow(p2Plain), filled(p2Weak)]);
makeChart(2, [hollow(p3Plain), filled(p3Weak)]);
makeChart(3, [hollow(p4Plain), filled(p4Weak)]);
makeChart(4, [hollow(p5Plain), filled(p5Weak)]);
makeChart(5, [dots(p6Both), hollow(p6Toru), filled(p6Weak)]);
makeChart(6, [hollow(p7Plain), filled(p7Weak)]);
makeChart(7, [hollow(p8Plain), filled(p8Weak)]);
makeChart(8, [hollow(p9Emphasis), filled(p9Question)]);
makeChart(9, [hollow(p10Emphasis), filled(p10Question)]);

// ---- text overlays ----
function addText(str, x, y, size){
  var d=document.createElement('div');
  d.className='txt'; d.textContent=str;
  d.style.fontSize=size+'px';
  d.style.left=x+'px'; d.style.top=(y-size/2)+'px';
  page.appendChild(d);
  return d;
}
// stretch the gaps between words so that a sentence spans its target width;
// if the glyphs alone are too wide, condense them horizontally
function fit(el, target){
  var str=el.textContent;
  var nSp=(str.match(/ /g)||[]).length;
  var w=el.getBoundingClientRect().width;
  if(nSp===0){
    el.style.letterSpacing=((target-w)/Array.from(str).length)+'px';
    return;
  }
  var minExtra=3*nSp;
  if(w+minExtra>target){
    el.style.wordSpacing='3px';
    el.style.transform='scaleX('+(target/(w+minExtra))+')';
  } else {
    el.style.wordSpacing=((target-w)/nSp)+'px';
  }
}

sentences.forEach(function(s,i){
  var p=sentencePos[i];
  var el=addText(s, p[0], p[1], 22);
  fit(el, p[2]);
});
// small tail of panel 6 sentence
var tail=addText('あると言っています', 902, 855, 17);
fit(tail, 213);

legends.forEach(function(lines,i){
  var small = (i===5);
  lines.forEach(function(ln,j){
    var pos=legendPos[i][j];
    addText(ln[0], pos[0], pos[1], small?15.5:18);
    if(ln[1]){
      var d=document.createElement('div');
      d.className='dot';
      var r = (ln[1]==='fill') ? 11 : (small?15:12);
      d.style.width=r+'px'; d.style.height=r+'px';
      d.style.left=(pos[2]-r/2)+'px'; d.style.top=(pos[1]-r/2)+'px';
      d.style.background = ln[1]==='fill' ? '#000' : '#fff';
      d.style.border = '1px solid ' + (ln[1]==='fill' ? '#000' : '#666');
      page.appendChild(d);
    }
  });
});
</script>
</body>
</html>
